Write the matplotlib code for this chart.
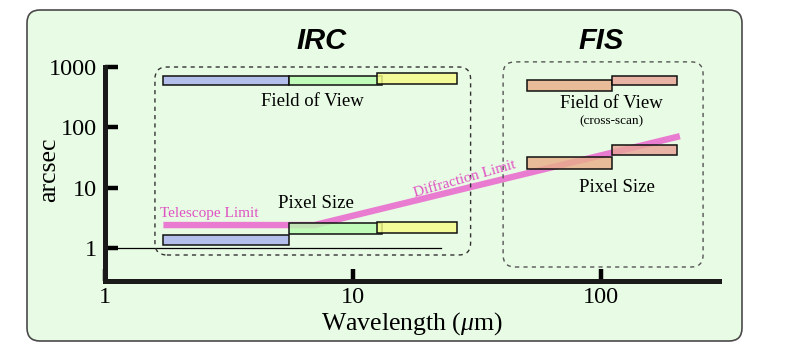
import matplotlib
matplotlib.use('Agg')
import matplotlib.pyplot as plt
from matplotlib.patches import FancyBboxPatch, Rectangle
from matplotlib.transforms import IdentityTransform
from matplotlib.colors import to_rgba

# ---------------- data ----------------
x_ticks = [1, 10, 100]
x_tick_labels = ['1', '10', '100']
y_ticks = [1, 10, 100, 1000]
y_tick_labels = ['1', '10', '100', '1000']

# IRC channels (NIR, MIR-S, MIR-L)
irc_wl_lo = [1.72, 5.53, 12.5]
irc_wl_hi = [5.53, 13.1, 26.2]
irc_colors = ['#a9b1ec', '#b9fbb0', '#f6fc88']
irc_fov_lo = [499, 499, 519]
irc_fov_hi = [711, 711, 789]
irc_pix_lo = [1.11, 1.71, 1.75]
irc_pix_hi = [1.66, 2.57, 2.73]

# FIS channels (short, long)
fis_wl_lo = [50.3, 110.7]
fis_wl_hi = [110.7, 202.0]
fis_colors = ['#e8ae88', '#e8a498']
fis_fov_lo = [401, 499]
fis_fov_hi = [604, 720]
fis_pix_lo = [20.2, 34.5]
fis_pix_hi = [31.9, 51.0]

# telescope / diffraction limit
limit_wl = [1.72, 7.0, 208.0]
limit_arcsec = [2.4, 2.4, 71.3]

# reference line at 1 arcsec
ref_wl = [1.0, 22.6]
ref_arcsec = [1.0, 1.0]

# ---------------- figure ----------------
W, H = 789, 360
plt.rcParams['font.family'] = ['Liberation Serif', 'DejaVu Serif']
plt.rcParams['mathtext.fontset'] = 'custom'
plt.rcParams['mathtext.it'] = 'Liberation Serif:italic'
plt.rcParams['mathtext.rm'] = 'Liberation Serif'

fig = plt.figure(figsize=(W / 100, H / 100), dpi=100)
fig.patch.set_facecolor('white')

bg = FancyBboxPatch((27, H - 341), 715, 331,
                    boxstyle='round,pad=0,rounding_size=13',
                    transform=IdentityTransform(),
                    facecolor='#e8fbe4', edgecolor='#4a4a4a', linewidth=1.2,
                    zorder=0)
fig.add_artist(bg)

ax = fig.add_axes([105 / W, 1 - 281 / H, (719 - 105) / W, (281 - 67) / H])
ax.set_facecolor('none')
ax.set_xscale('log')
ax.set_yscale('log')
ax.set_xlim(1, 10 ** ((719 - 105) / 248))
ax.set_ylim(10 ** (-(281 - 248) / 60.3), 1000)

for s in ['top', 'right']:
    ax.spines[s].set_visible(False)
for s in ['left', 'bottom']:
    ax.spines[s].set_linewidth(3.6)
    ax.spines[s].set_color('#1a1a1a')
    ax.spines[s].set_capstyle('projecting')

ax.set_xticks(x_ticks)
ax.set_xticklabels(x_tick_labels)
ax.set_yticks(y_ticks)
ax.set_yticklabels(y_tick_labels)
ax.minorticks_off()
ax.tick_params(axis='both', direction='in', length=9, width=3.2, color='black',
               labelsize=17.5)
ax.tick_params(axis='y', pad=6)
ax.tick_params(axis='x', pad=4)

ax.set_ylabel('arcsec', fontsize=18.5)
ax.yaxis.set_label_coords((60 - 105) / 614, (281 - 170) / 214)
ax.set_xlabel(r'Wavelength ($\mu$m)', fontsize=18.5, labelpad=2)

# reference line at 1"
ax.plot(ref_wl, ref_arcsec, color='black', lw=0.9, zorder=2, clip_on=False)

# limit line
ax.plot(limit_wl, limit_arcsec, color='#e97cd1', lw=4.6, zorder=2,
        solid_capstyle='butt', solid_joinstyle='miter')


def bar(x0, x1, y0, y1, c):
    ax.add_patch(Rectangle((x0, y0), x1 - x0, y1 - y0,
                           facecolor=to_rgba(c, 0.82), edgecolor='#111111',
                           linewidth=1.1, zorder=3))


for i in range(3):
    bar(irc_wl_lo[i], irc_wl_hi[i], irc_fov_lo[i], irc_fov_hi[i], irc_colors[i])
    bar(irc_wl_lo[i], irc_wl_hi[i], irc_pix_lo[i], irc_pix_hi[i], irc_colors[i])
for i in range(2):
    bar(fis_wl_lo[i], fis_wl_hi[i], fis_fov_lo[i], fis_fov_hi[i], fis_colors[i])
    bar(fis_wl_lo[i], fis_wl_hi[i], fis_pix_lo[i], fis_pix_hi[i], fis_colors[i])

# dashed instrument boxes (pixel coords)
fig.canvas.draw()


def dashed_box(x0, x1, y0, y1, col):
    p0 = ax.transData.transform((x0, y0))
    p1 = ax.transData.transform((x1, y1))
    box = FancyBboxPatch((p0[0], p0[1]), p1[0] - p0[0], p1[1] - p0[1],
                         boxstyle='round,pad=0,rounding_size=12',
                         transform=IdentityTransform(), facecolor='none',
                         edgecolor=col, linewidth=1.0, linestyle=(0, (3, 3)),
                         zorder=1)
    fig.add_artist(box)


dashed_box(1.59, 29.8, 0.765, 1000, '#333333')
dashed_box(40.3, 258, 0.484, 1216, '#555555')


def ftext(x, y, s, **kw):
    fig.text(x / W, 1 - y / H, s, ha='center', va='center', **kw)


sans_bi = dict(family=['Liberation Sans', 'DejaVu Sans'], weight='bold', style='italic')
ftext(322, 41, 'IRC', fontsize=21, **sans_bi)
ftext(601, 41, 'FIS', fontsize=21, **sans_bi)
ftext(312, 101, 'Field of View', fontsize=13.5)
ftext(611, 104, 'Field of View', fontsize=13.5)
ftext(611, 121, '(cross-scan)', fontsize=9.5)
ftext(316, 203, 'Pixel Size', fontsize=13.5)
ftext(617, 187, 'Pixel Size', fontsize=13.5)
ftext(209, 214, 'Telescope Limit', fontsize=11, color='#e052c4')
ftext(465, 179, 'Diffraction Limit', fontsize=11, color='#e052c4', rotation=16)

fig.savefig('out.png', dpi=100)
